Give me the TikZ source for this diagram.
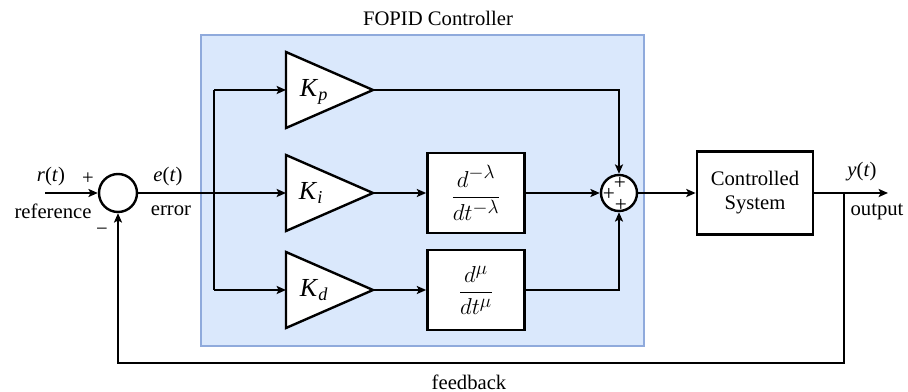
\documentclass[tikz,border=0pt]{standalone}
\usepackage{amsmath}
\usepackage{fontspec}
\setmainfont{Liberation Serif}
\usetikzlibrary{arrows.meta}
\definecolor{cfill}{HTML}{DAE8FC}
\definecolor{cedge}{HTML}{8FAADC}
\begin{document}
\begin{tikzpicture}[x=0.75pt,y=-0.75pt,
  font=\fontsize{15.5}{18}\selectfont,
  line/.style={line width=1.6pt},
  arr/.style={line, -{Stealth[length=7pt,width=6pt,inset=1.5pt]}},
  blk/.style={draw, line width=2pt, fill=white, minimum width=72.75pt, minimum height=60pt, inner sep=0pt, align=center},
  sumc/.style={draw, circle, line width=1.8pt, fill=white, inner sep=0pt},
  tri/.style={draw, line width=1.8pt, fill=white, line join=miter},
  lbl/.style={inner sep=0pt},
  glbl/.style={inner sep=0pt, font=\fontsize{19.5}{20}\selectfont},
  frac/.style={font=\fontsize{19}{22}\selectfont},
  plus/.style={inner sep=0pt, font=\fontsize{16}{16}\selectfont}]
\path[use as bounding box] (0,0) rectangle (908,392);

% controller container
\node (ctrl) [draw=cedge, fill=cfill, line width=0.8pt, minimum width=332.25pt, minimum height=233.25pt, inner sep=0pt] at (422.5,190.5) {};
\node[lbl] (title) at (438,18) {FOPID Controller};

% summing junctions
\node[sumc, minimum size=28.5pt] (s1) at (118,193) {};
\node[sumc, minimum size=27pt] (s2) at (619,193) {};
\node[plus] (pa) at (620,183) {+};
\node[plus] (pb) at (609,194) {+};
\node[plus] (pc) at (621,205) {+};

% gain triangles
\coordinate (kpin) at (286,90);  \coordinate (kpout) at (373,90);
\coordinate (kiin) at (286,193); \coordinate (kiout) at (373,193);
\coordinate (kdin) at (286,290); \coordinate (kdout) at (373,290);
\draw[tri] (286,52) -- (kpout) -- (286,128) -- cycle;
\draw[tri] (286,155) -- (kiout) -- (286,231) -- cycle;
\draw[tri] (286,252) -- (kdout) -- (286,328) -- cycle;
\node[glbl] (kp) at (314,92) {\textit{K}$_{\text{\itshape p}}$};
\node[glbl] (ki) at (311,193) {\textit{K}$_{\text{\itshape i}}$};
\node[glbl] (kd) at (314,290) {\textit{K}$_{\text{\itshape d}}$};

% fractional operators
\node[blk, frac] (b1) at (476,193) {$\dfrac{d^{-\lambda}}{dt^{-\lambda}}$};
\node[blk, frac] (b2) at (476,290) {$\dfrac{d^{\mu}}{dt^{\mu}}$};

% plant
\node[blk, minimum width=87pt, minimum height=62pt] (cs) at (755,193) {Controlled\\System};

% coordinates
\coordinate (rin) at (45,193);
\coordinate (sp) at (214,193);
\coordinate (fb) at (844,193);
\coordinate (yout) at (888,193);
\coordinate (fbr) at (844,363);
\coordinate (fbl) at (118,363);

% connectors
\draw[arr] (rin) -- (s1.west);
\draw[arr] (s1.east) -- (kiin);
\draw[line] (sp |- kpin) -- (sp |- kdin);
\draw[arr] (sp |- kpin) -- (kpin);
\draw[arr] (sp |- kdin) -- (kdin);
\draw[arr] (kiout) -- (b1.west);
\draw[arr] (kdout) -- (b2.west);
\draw[arr] (kpout) -| (s2.north);
\draw[arr] (b1.east) -- (s2.west);
\draw[arr] (b2.east) -| (s2.south);
\draw[arr] (s2.east) -- (cs.west);
\draw[arr] (cs.east) -- (yout);
\draw[arr] (fb) -- (fbr) -- (fbl) -- (s1.south);

% labels
\node[lbl] (rt) at (51,177) {\textit{r}(\textit{t})};
\node[lbl] (rp) at (88,179) {+};
\node[lbl] (rref) at (53,211) {reference};
\node[lbl] (rm) at (102,232) {−};
\node[lbl] (et) at (168,177) {\textit{e}(\textit{t})};
\node[lbl] (err) at (171,211) {error};
\node[lbl] (yt) at (862,172) {\textit{y}(\textit{t})};
\node[lbl] (out) at (877,212) {output};
\node[lbl] (fbk) at (469,382) {feedback};
\end{tikzpicture}
\end{document}
